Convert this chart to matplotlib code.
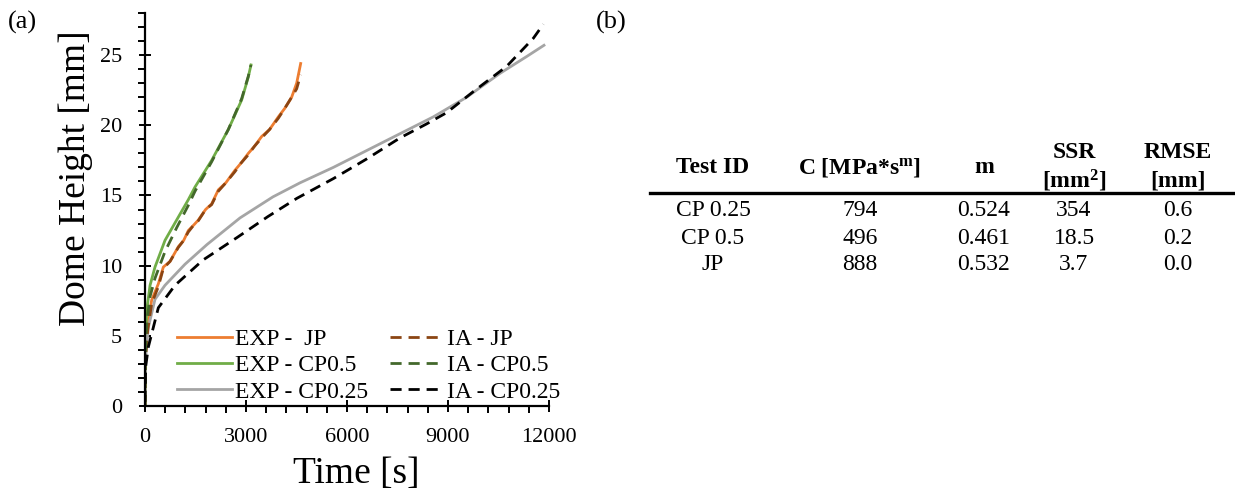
import numpy as np
import matplotlib
matplotlib.use("Agg")
import matplotlib.pyplot as plt
from matplotlib.lines import Line2D

plt.rcParams.update({
    "font.family": ["Liberation Serif", "DejaVu Serif"],
    "mathtext.default": "regular",
    "axes.linewidth": 1.6,
})

# ---- data ----
t_exp_cp05 = [0, 15, 50, 150, 297, 594, 940, 1287, 1485, 1980, 2475, 2871,
              3069, 3148]
h_exp_cp05 = [0, 4.5, 6.8, 8.6, 9.9, 11.8, 13.25, 14.7, 15.6, 17.5, 19.7,
              21.8, 23.45, 24.3]
t_ia_cp05 = [0, 15, 50, 150, 297, 594, 940, 1287, 1485, 1980, 2475, 2871,
             3069, 3148]
h_ia_cp05 = [0, 3.8, 5.9, 7.8, 9.1, 11.0, 12.7, 14.3, 15.3, 17.4, 19.7,
             21.9, 23.5, 24.3]

t_exp_jp = [0, 20, 80, 198, 396, 545, 743, 990, 1150, 1287, 1450, 1584,
            1800, 1980, 2178, 2400, 2673, 2850, 3069, 3250, 3465, 3700,
            3960, 4150, 4356, 4505, 4624]
h_exp_jp = [0, 4.0, 5.8, 7.55, 8.7, 9.9, 10.3, 11.35, 11.8, 12.5, 12.9,
            13.25, 14.0, 14.4, 15.4, 15.9, 16.8, 17.3, 18.0, 18.5, 19.2,
            19.7, 20.6, 21.2, 22.0, 23.0, 24.4]
t_ia_jp = [0, 20, 80, 198, 396, 545, 743, 990, 1150, 1287, 1450, 1584,
           1800, 1980, 2178, 2400, 2673, 2850, 3069, 3250, 3465, 3700,
           3960, 4150, 4356, 4505, 4624]
h_ia_jp = [0, 3.5, 5.4, 7.3, 8.5, 9.8, 10.3, 11.3, 11.8, 12.4, 12.9,
           13.2, 14.0, 14.35, 15.3, 15.9, 16.7, 17.3, 17.9, 18.5, 19.1,
           19.7, 20.5, 21.2, 22.0, 22.6, 23.6]

t_exp_cp025 = [0, 20, 99, 297, 594, 1188, 1840, 2822, 3800, 4604, 5594,
               6584, 7574, 8564, 9555, 10545, 11337, 11851]
h_exp_cp025 = [0, 3.5, 5.6, 7.6, 8.6, 10.1, 11.5, 13.4, 14.9, 15.9, 17.0,
               18.2, 19.4, 20.6, 22.0, 23.7, 24.9, 25.7]
t_ia_cp025 = [0, 20, 99, 396, 891, 1723, 2732, 3653, 4514, 5594, 6584,
              7574, 8366, 8960, 9752, 10743, 11535, 11832]
h_ia_cp025 = [0.3, 2.8, 4.2, 7.0, 8.6, 10.4, 12.0, 13.5, 14.8, 16.2, 17.6,
              19.1, 20.1, 20.9, 22.4, 24.2, 26.2, 27.2]

# table
tbl_ids = ["CP 0.25", "CP 0.5", "JP"]
tbl_C = ["794", "496", "888"]
tbl_m = ["0.524", "0.461", "0.532"]
tbl_ssr = ["354", "18.5", "3.7"]
tbl_rmse = ["0.6", "0.2", "0.0"]

W, H = 1235, 494
fig = plt.figure(figsize=(W / 100, H / 100), dpi=100)
ax = fig.add_axes([145 / W, 1 - 406 / H, 404 / W, 393 / H])

lw = 2.0
dash = (0, (4, 2.5))
ax.plot(t_exp_jp, h_exp_jp, color="#ED7D31", lw=lw, label="EXP -  JP")
ax.plot(t_exp_cp05, h_exp_cp05, color="#70AD47", lw=lw, label="EXP - CP0.5")
ax.plot(t_exp_cp025, h_exp_cp025, color="#A5A5A5", lw=lw, label="EXP - CP0.25")
ax.plot(t_ia_jp, h_ia_jp, color="#8B4513", lw=lw, ls=dash, label="IA - JP")
ax.plot(t_ia_cp05, h_ia_cp05, color="#43682B", lw=lw, ls=dash, label="IA - CP0.5")
ax.plot(t_ia_cp025, h_ia_cp025, color="black", lw=lw, ls=dash, label="IA - CP0.25")

ax.set_xlim(0, 12000)
ax.set_ylim(0, 28)
ax.set_xticks(np.arange(0, 12001, 3000))
ax.set_xticks(np.arange(0, 12001, 600), minor=True)
ax.set_yticks(np.arange(0, 26, 5))
ax.set_yticks(np.arange(0, 29, 1), minor=True)
ax.tick_params(which="major", direction="inout", length=9, width=1.4,
               labelsize=16)
ax.tick_params(axis="y", which="major", pad=12)
ax.tick_params(axis="x", which="major", pad=11)
ax.tick_params(which="minor", direction="out", length=5, width=1.4)
for s in ["top", "right"]:
    ax.spines[s].set_visible(False)
ax.set_xlabel("Time [s]", fontsize=27)
ax.set_ylabel("Dome Height [mm]", fontsize=27)
ax.xaxis.set_label_coords((356 - 145) / 404, -(474 - 406) / 393)
ax.yaxis.set_label_coords(-(145 - 76) / 404, (406 - 178) / 393)
ax.xaxis.label.set_va("center")
ax.yaxis.label.set_va("center")

leg = ax.legend(ncol=2, loc="upper left", bbox_to_anchor=(0.08, 0.197),
                frameon=False, fontsize=17, labelspacing=0.2,
                handlelength=2.3, handletextpad=0.15, columnspacing=0.9,
                borderpad=0, borderaxespad=0)

fig.text(8 / W, 1 - 22 / H, "(a)", fontsize=19, va="center")
fig.text(596 / W, 1 - 22 / H, "(b)", fontsize=19, va="center")

# ---- table (b) ----
col_x = [713, 860, 984, 1074, 1178]
fs = 17
hdr_y = 167
fig.text(col_x[0] / W, 1 - hdr_y / H, "Test ID", fontsize=fs, weight="bold",
         ha="center", va="center")
fig.text(col_x[1] / W, 1 - hdr_y / H, r"C [MPa*s$^{m}$]", fontsize=fs,
         weight="bold", ha="center", va="center")
fig.text(col_x[2] / W, 1 - hdr_y / H, "m", fontsize=fs, weight="bold",
         ha="center", va="center")
fig.text(col_x[3] / W, 1 - 153 / H, "SSR", fontsize=fs, weight="bold",
         ha="center", va="center")
fig.text(col_x[3] / W, 1 - 181 / H, r"[mm$^{2}$]", fontsize=fs, weight="bold",
         ha="center", va="center")
fig.text(col_x[4] / W, 1 - 153 / H, "RMSE", fontsize=fs, weight="bold",
         ha="center", va="center")
fig.text(col_x[4] / W, 1 - 181 / H, "[mm]", fontsize=fs, weight="bold",
         ha="center", va="center")

fig.add_artist(Line2D([650 / W, 1.0], [1 - 193 / H, 1 - 193 / H],
                      color="black", lw=2.4, transform=fig.transFigure))

row_y = [210, 238, 265]
for i, y in enumerate(row_y):
    cells = [tbl_ids[i], tbl_C[i], tbl_m[i], tbl_ssr[i], tbl_rmse[i]]
    for cx, txt in zip(col_x, cells):
        fig.text(cx / W, 1 - y / H, txt, fontsize=fs, ha="center", va="center")

fig.savefig("out.png", dpi=100)
